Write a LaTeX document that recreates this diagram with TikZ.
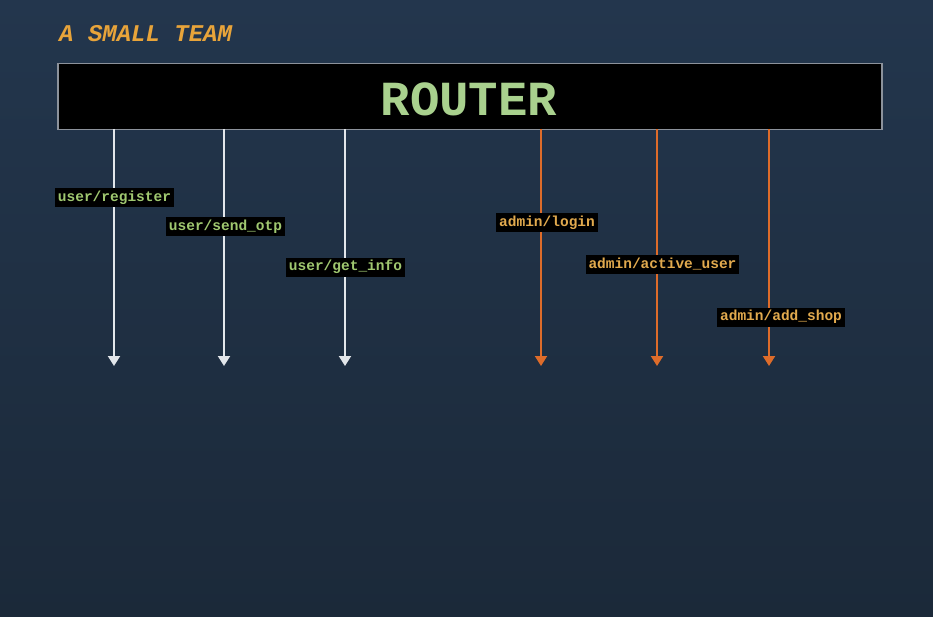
\documentclass[tikz,border=0pt]{standalone}
\usepackage{fontspec}
\setmonofont{Liberation Mono}
\usetikzlibrary{arrows.meta}
\definecolor{bgtop}{RGB}{35,54,77}
\definecolor{bgbot}{RGB}{27,41,57}
\definecolor{titlecol}{RGB}{232,164,58}
\definecolor{routertxt}{RGB}{169,209,142}
\definecolor{routerborder}{RGB}{140,146,155}
\definecolor{userline}{RGB}{226,230,234}
\definecolor{adminline}{RGB}{222,108,42}
\definecolor{usertxt}{RGB}{160,200,112}
\definecolor{admintxt}{RGB}{226,170,78}
\tikzset{
  every picture/.style={x=1pt,y=1pt},
  routerbox/.style={draw=routerborder,line width=1.5pt,fill=black},
  routelabel/.style={fill=black,inner xsep=3pt,inner ysep=3pt,text height=10pt,text depth=3pt,
    font=\ttfamily\bfseries\fontsize{14.5}{16}\selectfont},
  userlabel/.style={routelabel,text=usertxt},
  adminlabel/.style={routelabel,text=admintxt},
  userarrow/.style={draw=userline,line width=2pt,-{Triangle[width=12pt,length=10pt]}},
  adminarrow/.style={draw=adminline,line width=2pt,-{Triangle[width=12pt,length=10pt]}}
}
\begin{document}
\begin{tikzpicture}
\shade[top color=bgtop,bottom color=bgbot] (0,0) rectangle (933,-617);
\useasboundingbox (0,0) rectangle (933,-617);
% title
\node[anchor=base west,inner sep=0,text=titlecol,font=\ttfamily\bfseries\itshape\fontsize{24}{28}\selectfont] (title) at (59,-42) {A SMALL TEAM};
% router
\node[routerbox,minimum width=824pt,minimum height=66pt,inner sep=0,anchor=north west] (router) at (57,-63) {};
\node[text=routertxt,inner sep=0,font=\ttfamily\bfseries\fontsize{49}{54}\selectfont] (routertext) at (469,-99) {ROUTER};
% end points
\foreach \n/\x in {u1/114,u2/224,u3/345,a1/541,a2/657,a3/769}{
  \coordinate (s\n) at (\x,-129);
  \coordinate (e\n) at (\x,-366);
}
\draw[userarrow] (su1) -- (eu1);
\draw[userarrow] (su2) -- (eu2);
\draw[userarrow] (su3) -- (eu3);
\draw[adminarrow] (sa1) -- (ea1);
\draw[adminarrow] (sa2) -- (ea2);
\draw[adminarrow] (sa3) -- (ea3);
% labels
\node[userlabel] (l1) at (114.5,-198) {user/register};
\node[userlabel] (l2) at (225.5,-227) {user/send\_otp};
\node[userlabel] (l3) at (345.5,-267.5) {user/get\_info};
\node[adminlabel] (l4) at (547,-223) {admin/login};
\node[adminlabel] (l5) at (662.5,-265) {admin/active\_user};
\node[adminlabel] (l6) at (781,-317) {admin/add\_shop};
\end{tikzpicture}
\end{document}
